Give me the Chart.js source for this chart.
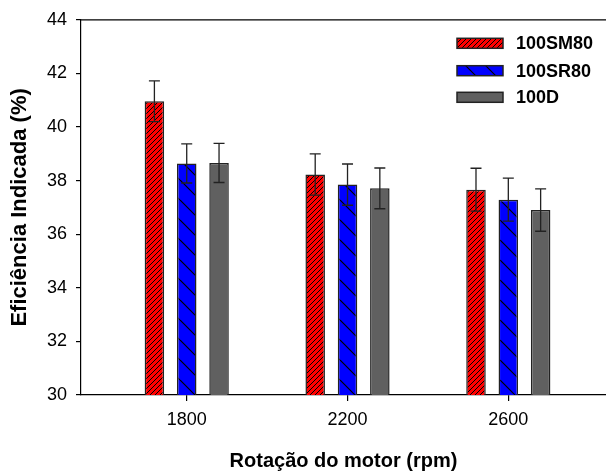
<!DOCTYPE html>
<html>
<head>
<meta charset="utf-8">
<script src="https://cdn.jsdelivr.net/npm/chart.js@4/dist/chart.umd.min.js"></script>
<style>
  html, body { margin: 0; padding: 0; background: #fff; overflow: hidden; }
  #wrap { width: 606px; height: 476px; }
</style>
</head>
<body>
<div id="wrap"><canvas id="c" width="606" height="476"></canvas></div>
<script>
// Engine speed groups (rpm) and series
const rpm = [1800, 2200, 2600];
const seriesNames = ['100SM80', '100SR80', '100D'];

// Indicated efficiency (%) and standard deviation per series
const sm80 = [40.96, 38.23, 37.66];
const sm80Err = [0.76, 0.77, 0.80];
const sr80 = [38.64, 37.85, 37.29];
const sr80Err = [0.73, 0.77, 0.80];
const d100 = [38.66, 37.71, 36.90];
const d100Err = [0.73, 0.76, 0.79];

// Axis ranges and tick values
const yTicks = [30, 32, 34, 36, 38, 40, 42, 44];
const xRange = [1537, 2843];

const FONT = '"Liberation Sans", Arial, sans-serif';

function hatch(size, fill, dir, lw) {
  const c = document.createElement('canvas');
  c.width = size; c.height = size;
  const g = c.getContext('2d');
  g.fillStyle = fill;
  g.fillRect(0, 0, size, size);
  g.strokeStyle = '#000';
  g.lineWidth = lw;
  g.beginPath();
  for (let k = -1; k <= 1; k++) {
    if (dir === '/') {
      g.moveTo(k * size, size); g.lineTo(k * size + size, 0);
    } else {
      g.moveTo(k * size, 0); g.lineTo(k * size + size, size);
    }
  }
  g.stroke();
  return g.createPattern(c, 'repeat');
}

const ctx0 = document.getElementById('c').getContext('2d');
const redFill = hatch(5, '#ff0000', '/', 1);
const blueFill = hatch(20, '#0000ff', '\\', 1.2);
const grayFill = '#606060';

const series = [
  { name: seriesNames[0], vals: sm80, err: sm80Err, fill: redFill },
  { name: seriesNames[1], vals: sr80, err: sr80Err, fill: blueFill },
  { name: seriesNames[2], vals: d100, err: d100Err, fill: grayFill }
];

// Error bars with caps, drawn from the y scale
const errorBars = {
  id: 'errorBars',
  afterDatasetsDraw(chart) {
    const { ctx, scales: { y } } = chart;
    ctx.save();
    ctx.strokeStyle = '#222';
    ctx.lineWidth = 1.3;
    chart.data.datasets.forEach((ds, di) => {
      const meta = chart.getDatasetMeta(di);
      meta.data.forEach((bar, i) => {
        const v = ds.data[i].y, e = ds.errors[i];
        const top = y.getPixelForValue(v + e);
        const bot = y.getPixelForValue(v - e);
        const x = bar.x, cap = 5.5;
        ctx.beginPath();
        ctx.moveTo(x, top); ctx.lineTo(x, bot);
        ctx.moveTo(x - cap, top); ctx.lineTo(x + cap, top);
        ctx.moveTo(x - cap, bot); ctx.lineTo(x + cap, bot);
        ctx.stroke();
      });
    });
    ctx.restore();
  }
};

// Top frame line and the legend block
const frameAndLegend = {
  id: 'frameAndLegend',
  afterDraw(chart) {
    const { ctx, chartArea } = chart;
    ctx.save();
    ctx.strokeStyle = '#000';
    ctx.lineWidth = 1.2;
    ctx.beginPath();
    ctx.moveTo(chartArea.left, chartArea.top);
    ctx.lineTo(chartArea.right, chartArea.top);
    ctx.stroke();

    const rows = [43.3, 70.7, 97.3];
    chart.data.datasets.forEach((ds, i) => {
      const cy = rows[i];
      ctx.fillStyle = ds.backgroundColor;
      ctx.fillRect(457, cy - 5, 46, 10);
      ctx.strokeStyle = '#222';
      ctx.lineWidth = 1.5;
      ctx.strokeRect(457, cy - 5, 46, 10);
      ctx.fillStyle = '#000';
      ctx.font = 'bold 18px ' + FONT;
      ctx.textBaseline = 'middle';
      ctx.textAlign = 'left';
      ctx.fillText(ds.label, 516, cy + 1);
    });
    ctx.restore();
  }
};

new Chart(ctx0, {
  type: 'bar',
  data: {
    datasets: series.map(s => ({
      label: s.name,
      data: rpm.map((x, i) => ({ x: x, y: s.vals[i] })),
      errors: s.err,
      backgroundColor: s.fill,
      borderColor: '#222',
      borderWidth: 1.5,
      borderSkipped: false,
      categoryPercentage: 0.603,
      barPercentage: 0.604
    }))
  },
  options: {
    responsive: false,
    animation: false,
    layout: { padding: { top: 12, right: 0, left: 0, bottom: 0 } },
    plugins: { legend: { display: false }, tooltip: { enabled: false } },
    scales: {
      x: {
        type: 'linear',
        min: xRange[0],
        max: xRange[1],
        offset: false,
        afterBuildTicks(scale) { scale.ticks = rpm.map(v => ({ value: v })); },
        afterFit(scale) { scale.height = 81; },
        ticks: {
          color: '#000',
          font: { family: FONT, size: 18 },
          padding: 8,
          maxRotation: 0,
          autoSkip: false,
          callback: v => String(v)
        },
        grid: { display: true, offset: false, drawOnChartArea: false, drawTicks: true, tickLength: 6, color: '#000', lineWidth: 1.2 },
        border: { display: true, color: '#000', width: 1.2 },
        title: {
          display: true,
          text: 'Rotação do motor (rpm)',
          color: '#000',
          font: { family: FONT, size: 20, weight: 'bold' },
          padding: { top: 0, bottom: 3 }
        }
      },
      y: {
        min: 30,
        max: 44,
        afterBuildTicks(scale) { scale.ticks = yTicks.map(v => ({ value: v })); },
        afterFit(scale) { scale.width = 81; },
        ticks: {
          color: '#000',
          font: { family: FONT, size: 18 },
          padding: 9,
          callback: v => String(v)
        },
        grid: { display: true, drawOnChartArea: false, drawTicks: true, tickLength: 5, color: '#000', lineWidth: 1.2 },
        border: { display: true, color: '#000', width: 1.2 },
        title: {
          display: true,
          text: 'Eficiência Indicada (%)',
          color: '#000',
          font: { family: FONT, size: 22, weight: 'bold' },
          padding: { top: 7, bottom: 0 }
        }
      }
    }
  },
  plugins: [errorBars, frameAndLegend]
});
</script>
</body>
</html>
